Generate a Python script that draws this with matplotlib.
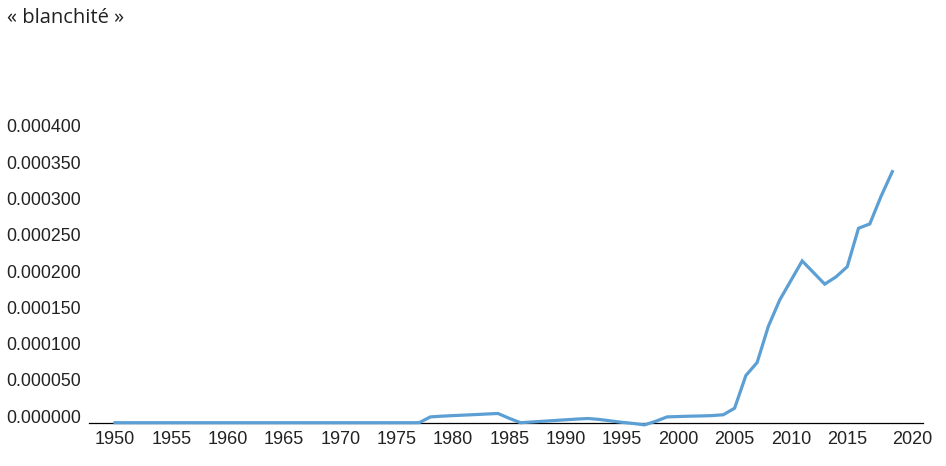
import matplotlib
matplotlib.use("Agg")
import matplotlib.pyplot as plt

# ---- data ----
years = list(range(1950, 2020))
values = (
    [0.0] * 28 +                                   # 1950-1977
    [8.0e-6, 9.0e-6, 9.8e-6, 1.05e-5, 1.12e-5, 1.20e-5, 1.27e-5,  # 1978-1984
     6.0e-6, 0.0,                                   # 1985-1986
     1.0e-6, 2.0e-6, 3.0e-6, 4.0e-6, 5.0e-6, 5.8e-6,  # 1987-1992
     4.5e-6, 2.5e-6, 0.5e-6, -1.0e-6, -3.0e-6,      # 1993-1997
     2.0e-6, 8.0e-6, 8.5e-6, 9.0e-6, 9.3e-6, 9.8e-6,  # 1998-2003
     1.1e-5, 2.0e-5, 6.5e-5, 8.3e-5, 1.33e-4, 1.69e-4,  # 2004-2009
     1.96e-4, 2.23e-4, 2.07e-4, 1.91e-4, 2.01e-4, 2.15e-4,  # 2010-2015
     2.68e-4, 2.74e-4, 3.12e-4, 3.46e-4]            # 2016-2019
)
title = "« blanchité »"
x_tick_labels = ["1950", "1955", "1960", "1965", "1970", "1975", "1980",
                 "1985", "1990", "1995", "2000", "2005", "2010", "2015", "2020"]
y_ticks = [0.0, 0.00005, 0.0001, 0.00015, 0.0002, 0.00025, 0.0003, 0.00035, 0.0004]

# ---- figure ----
fig = plt.figure(figsize=(9.46, 4.66), dpi=100)
ax = fig.add_axes([0.0944, 0.0929, 0.881, 0.6228])

ax.plot(years, values, color="#5b9fd4", linewidth=2.3, clip_on=False,
        solid_joinstyle="miter")

ax.set_xlim(1947.72, 2021.70)
ax.set_ylim(0, 0.0004)

x_pos = [int(t) for t in x_tick_labels]
x_pos[-1] = 2020.8
ax.set_xticks(x_pos)
ax.set_xticklabels(x_tick_labels, fontfamily="Liberation Sans",
                   fontsize=13, color="#222222")
ax.set_yticks(y_ticks)
ax.set_yticklabels([f"{v:.6f}" for v in y_ticks], fontfamily="Liberation Sans",
                   fontsize=12.8, color="#222222")
for lab in ax.get_yticklabels():
    lab.set_verticalalignment("baseline")

ax.tick_params(axis="both", length=0)
ax.tick_params(axis="x", pad=6)
ax.tick_params(axis="y", pad=6)

for s in ["top", "right", "left"]:
    ax.spines[s].set_visible(False)
ax.spines["bottom"].set_color("#000000")
ax.spines["bottom"].set_linewidth(0.9)
ax.spines["bottom"].set_zorder(1)

fig.text(0.0074, 0.962, title, fontfamily="Open Sans", fontsize=14.5,
         color="#222222", va="center", ha="left")

fig.savefig("out.png", dpi=100)
